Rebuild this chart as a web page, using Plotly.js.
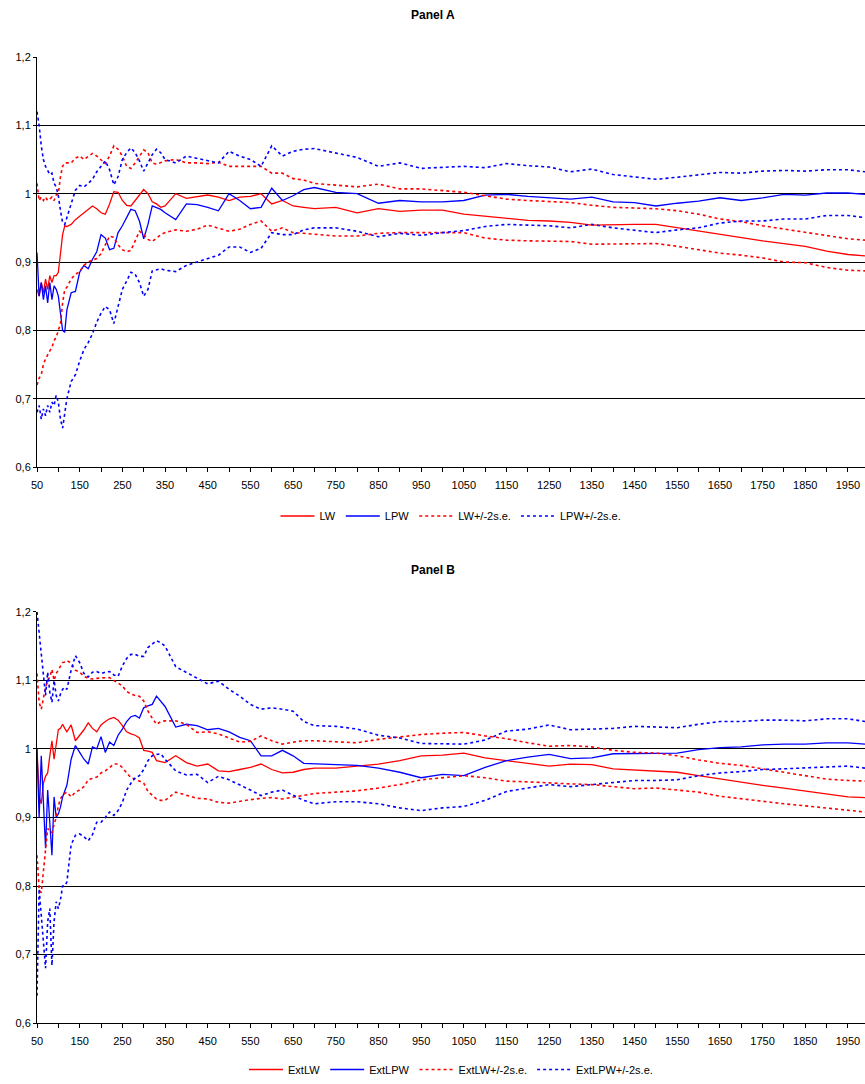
<!DOCTYPE html>
<html>
<head>
<meta charset="utf-8">
<script src="https://cdn.plot.ly/plotly-3.0.1.min.js"></script>
<style>
html,body{margin:0;padding:0;background:#fff;}
.chart{width:865px;height:542px;}
</style>
</head>
<body>
<div id="chartA" class="chart"></div>
<div id="chartB" class="chart"></div>
<script>
// Shared x grid (number of observations)
var xs = [50,55,60,65,70,75,80,85,90,95,100,105,110,115,120,130,140,150,160,170,180,190,200,210,220,230,240,250,260,270,280,290,300,310,320,330,340,350,375,400,425,450,475,500,525,550,575,600,625,650,675,700,750,800,850,900,950,1000,1050,1100,1150,1200,1250,1300,1350,1400,1450,1500,1550,1600,1650,1700,1750,1800,1850,1900,1950,1990];

// Panel A
var LW = [0.86,0.85,0.87,0.855,0.875,0.86,0.88,0.87,0.88,0.88,0.885,0.91,0.94,0.953,0.952,0.955,0.962,0.967,0.972,0.978,0.982,0.978,0.972,0.97,0.985,1.003,1.002,0.99,0.983,0.982,0.99,0.998,1.006,1.0,0.988,0.985,0.98,0.982,1.0,0.993,0.995,0.998,0.995,0.99,0.995,0.996,1.0,0.985,0.99,0.982,0.98,0.978,0.98,0.972,0.978,0.974,0.976,0.976,0.97,0.967,0.963,0.961,0.96,0.958,0.954,0.955,0.955,0.955,0.95,0.945,0.94,0.935,0.931,0.927,0.923,0.916,0.911,0.909];
var LPW = [0.914,0.85,0.87,0.845,0.865,0.84,0.87,0.845,0.865,0.86,0.85,0.82,0.8,0.797,0.83,0.855,0.857,0.885,0.895,0.89,0.904,0.915,0.94,0.935,0.918,0.92,0.943,0.953,0.965,0.977,0.975,0.96,0.934,0.955,0.982,0.98,0.977,0.972,0.962,0.985,0.984,0.98,0.975,1.0,0.99,0.978,0.98,1.008,0.99,0.997,1.006,1.009,1.002,1.0,0.986,0.99,0.988,0.988,0.99,0.998,0.999,0.996,0.994,0.992,0.995,0.988,0.987,0.982,0.986,0.989,0.994,0.99,0.994,0.999,0.998,1.001,1.001,0.999];
var LWup = [1.015,0.99,0.995,0.99,0.995,0.99,0.992,0.995,0.99,0.998,1.0,1.025,1.04,1.045,1.045,1.045,1.052,1.055,1.05,1.055,1.059,1.055,1.05,1.044,1.055,1.07,1.065,1.055,1.04,1.037,1.045,1.055,1.064,1.06,1.045,1.043,1.045,1.048,1.05,1.045,1.045,1.044,1.046,1.04,1.04,1.04,1.04,1.03,1.03,1.022,1.02,1.015,1.013,1.01,1.014,1.007,1.007,1.005,1.002,0.997,0.992,0.99,0.988,0.987,0.983,0.98,0.979,0.978,0.975,0.97,0.963,0.959,0.953,0.948,0.944,0.939,0.934,0.932];
var LWlo = [0.72,0.73,0.735,0.75,0.758,0.765,0.77,0.775,0.785,0.79,0.8,0.81,0.84,0.86,0.863,0.875,0.882,0.886,0.895,0.9,0.903,0.905,0.912,0.925,0.938,0.936,0.925,0.918,0.915,0.917,0.93,0.945,0.94,0.933,0.93,0.935,0.94,0.943,0.947,0.945,0.948,0.954,0.95,0.945,0.948,0.955,0.96,0.945,0.95,0.943,0.942,0.941,0.938,0.938,0.942,0.943,0.943,0.943,0.943,0.935,0.932,0.931,0.93,0.93,0.926,0.926,0.926,0.927,0.923,0.918,0.913,0.91,0.906,0.9,0.899,0.892,0.888,0.887];
var LPWup = [1.12,1.1,1.07,1.05,1.04,1.035,1.028,1.03,1.015,1.01,0.997,0.975,0.958,0.955,0.965,0.985,1.005,1.012,1.01,1.015,1.021,1.032,1.04,1.048,1.035,1.013,1.025,1.05,1.06,1.067,1.06,1.048,1.033,1.045,1.057,1.065,1.06,1.05,1.045,1.055,1.052,1.048,1.045,1.062,1.055,1.05,1.04,1.07,1.055,1.062,1.065,1.066,1.06,1.053,1.04,1.045,1.037,1.038,1.04,1.038,1.044,1.041,1.039,1.032,1.036,1.028,1.025,1.021,1.024,1.027,1.031,1.03,1.033,1.034,1.033,1.035,1.035,1.032];
var LPWlo = [0.68,0.69,0.67,0.685,0.675,0.69,0.68,0.695,0.69,0.705,0.695,0.67,0.657,0.68,0.7,0.725,0.735,0.755,0.772,0.782,0.795,0.812,0.825,0.835,0.83,0.81,0.835,0.86,0.872,0.885,0.882,0.87,0.85,0.86,0.887,0.888,0.89,0.888,0.886,0.895,0.9,0.905,0.91,0.922,0.922,0.914,0.92,0.943,0.94,0.94,0.947,0.95,0.95,0.945,0.937,0.942,0.939,0.943,0.946,0.952,0.955,0.954,0.953,0.95,0.955,0.95,0.946,0.943,0.947,0.95,0.957,0.96,0.96,0.963,0.963,0.968,0.968,0.965];

// Panel B
var ExtLW = [1.0,0.93,0.92,0.95,0.96,0.965,0.99,1.012,0.985,1.01,1.028,1.03,1.036,1.03,1.025,1.035,1.012,1.02,1.028,1.038,1.03,1.025,1.035,1.04,1.044,1.046,1.042,1.034,1.025,1.022,1.02,1.016,0.998,0.997,0.995,0.983,0.982,0.98,0.99,0.98,0.975,0.978,0.968,0.967,0.97,0.973,0.978,0.97,0.965,0.966,0.97,0.972,0.972,0.975,0.978,0.983,0.99,0.991,0.994,0.987,0.983,0.98,0.975,0.978,0.977,0.971,0.969,0.968,0.966,0.961,0.956,0.951,0.947,0.943,0.939,0.934,0.93,0.929];
var ExtLPW = [1.0,0.9,0.99,0.92,0.855,0.94,0.885,0.845,0.93,0.9,0.905,0.915,0.93,0.94,0.947,0.985,1.005,0.995,0.985,0.978,1.003,1.0,1.018,0.995,1.01,1.005,1.02,1.029,1.04,1.047,1.049,1.045,1.06,1.063,1.065,1.077,1.07,1.062,1.032,1.036,1.034,1.028,1.03,1.025,1.017,1.012,0.99,0.99,0.998,0.99,0.979,0.978,0.977,0.976,0.972,0.966,0.958,0.963,0.961,0.973,0.983,0.988,0.992,0.986,0.987,0.993,0.993,0.994,0.994,0.999,1.002,1.003,1.006,1.007,1.007,1.009,1.009,1.007];
var ExtLWup = [1.11,1.068,1.058,1.075,1.09,1.1,1.105,1.116,1.1,1.11,1.116,1.12,1.126,1.127,1.129,1.125,1.115,1.112,1.106,1.103,1.102,1.103,1.104,1.104,1.104,1.1,1.097,1.092,1.084,1.08,1.078,1.077,1.07,1.055,1.045,1.036,1.04,1.041,1.041,1.036,1.024,1.025,1.022,1.016,1.01,1.011,1.019,1.012,1.007,1.01,1.012,1.012,1.01,1.009,1.014,1.018,1.021,1.023,1.024,1.019,1.015,1.009,1.004,1.005,1.003,0.998,0.995,0.994,0.99,0.984,0.979,0.976,0.971,0.966,0.961,0.956,0.954,0.953];
var ExtLWlo = [0.845,0.796,0.79,0.825,0.855,0.884,0.88,0.878,0.89,0.9,0.917,0.927,0.933,0.935,0.937,0.93,0.937,0.94,0.945,0.955,0.957,0.959,0.965,0.968,0.973,0.978,0.978,0.973,0.965,0.958,0.956,0.953,0.95,0.938,0.932,0.927,0.925,0.925,0.937,0.932,0.928,0.927,0.922,0.921,0.924,0.926,0.928,0.929,0.927,0.93,0.933,0.935,0.937,0.939,0.943,0.948,0.955,0.958,0.961,0.958,0.953,0.952,0.95,0.949,0.948,0.945,0.942,0.943,0.94,0.937,0.931,0.927,0.924,0.92,0.917,0.914,0.91,0.908];
var ExtLPWup = [1.2,1.17,1.136,1.107,1.078,1.112,1.083,1.068,1.1,1.078,1.07,1.08,1.087,1.09,1.087,1.115,1.136,1.126,1.11,1.105,1.112,1.113,1.11,1.112,1.113,1.108,1.106,1.121,1.132,1.138,1.138,1.135,1.135,1.148,1.153,1.158,1.155,1.15,1.12,1.112,1.104,1.095,1.099,1.087,1.077,1.065,1.058,1.06,1.058,1.055,1.04,1.034,1.033,1.029,1.02,1.016,1.008,1.007,1.007,1.013,1.026,1.029,1.035,1.028,1.029,1.03,1.033,1.032,1.031,1.036,1.04,1.04,1.042,1.042,1.041,1.044,1.044,1.04];
var ExtLPWlo = [0.64,0.796,0.757,0.718,0.68,0.748,0.767,0.684,0.748,0.777,0.767,0.78,0.8,0.8,0.806,0.86,0.874,0.876,0.872,0.866,0.875,0.893,0.893,0.9,0.908,0.903,0.91,0.922,0.94,0.95,0.958,0.961,0.97,0.983,0.99,0.992,0.993,0.985,0.968,0.962,0.963,0.951,0.96,0.955,0.948,0.94,0.932,0.937,0.94,0.932,0.925,0.92,0.923,0.923,0.92,0.914,0.91,0.914,0.916,0.925,0.938,0.943,0.948,0.945,0.948,0.951,0.954,0.954,0.955,0.961,0.965,0.967,0.97,0.971,0.972,0.974,0.975,0.972];

// Axis labels
var yTickVals = [0.6,0.7,0.8,0.9,1.0,1.1,1.2];
var yTickText = ['0,6','0,7','0,8','0,9','1','1,1','1,2'];
var xTickVals = [];
var xTickText = [];
for (var v = 50; v <= 1950; v += 50) {
  xTickVals.push(v);
  xTickText.push(((v - 50) % 100 === 0) ? String(v) : '');
}

var RED = 'rgb(255,0,0)', BLUE = 'rgb(0,0,255)';
var FONT = 'Liberation Sans, Arial, sans-serif';
function tr(y, name, color, dotted, show, group) {
  var t = {
    x: xs, y: y, name: name, type: 'scatter', mode: 'lines',
    showlegend: show,
    line: dotted ? {color: color, width: 1.6, dash: 'dot'} : {color: color, width: 1.3, dash: 'solid'},
    hoverinfo: 'skip'
  };
  if (group) t.legendgroup = group;
  return t;
}

var W = 865, H = 542;
function py(px) { return 1 - px / H; }

function makeLayout(title, top, bottom, titleY, legendY) {
  return {
    width: W, height: H,
    margin: {l: 0, r: 0, t: 0, b: 0},
    paper_bgcolor: '#fff', plot_bgcolor: '#fff',
    showlegend: true,
    xaxis: {
      domain: [37 / W, 1], range: [50, 1990],
      tickmode: 'array', tickvals: xTickVals, ticktext: xTickText,
      ticks: 'outside', ticklen: 4, tickcolor: '#000', tickwidth: 1,
      ticklabelstandoff: 4,
      showline: true, linecolor: '#000', linewidth: 1,
      showgrid: false, zeroline: false,
      tickfont: {family: FONT, size: 11, color: '#000'}
    },
    yaxis: {
      domain: [py(bottom), py(top)], range: [0.6, 1.2],
      tickmode: 'array', tickvals: yTickVals, ticktext: yTickText,
      ticks: 'outside', ticklen: 3, tickcolor: '#000', tickwidth: 1,
      showline: true, linecolor: '#000', linewidth: 1,
      showgrid: true, gridcolor: '#000', gridwidth: 1, zeroline: false,
      tickfont: {family: FONT, size: 11, color: '#000'}
    },
    legend: {orientation: 'h', x: 451 / W, xanchor: 'center', y: py(legendY), yanchor: 'middle',
             traceorder: 'normal',
             font: {family: FONT, size: 11, color: '#000'}, itemwidth: 34, tracegroupgap: 0,
             bgcolor: 'rgba(0,0,0,0)'},
    annotations: [
      {text: '<b>' + title + '</b>', xref: 'paper', yref: 'paper', x: 0.5, y: py(titleY),
       xanchor: 'center', yanchor: 'middle', showarrow: false,
       font: {family: FONT, size: 12, color: '#000'}}
    ]
  };
}

var dataA = [
  tr(LW, 'LW', RED, false, true, null),
  tr(LPW, 'LPW', BLUE, false, true, null),
  tr(LWup, 'LW+/-2s.e.', RED, true, true, 'a3'),
  tr(LWlo, 'LW+/-2s.e.', RED, true, false, 'a3'),
  tr(LPWup, 'LPW+/-2s.e.', BLUE, true, true, 'a4'),
  tr(LPWlo, 'LPW+/-2s.e.', BLUE, true, false, 'a4')
];
var dataB = [
  tr(ExtLW, 'ExtLW', RED, false, true, null),
  tr(ExtLPW, 'ExtLPW', BLUE, false, true, null),
  tr(ExtLWup, 'ExtLW+/-2s.e.', RED, true, true, 'b3'),
  tr(ExtLWlo, 'ExtLW+/-2s.e.', RED, true, false, 'b3'),
  tr(ExtLPWup, 'ExtLPW+/-2s.e.', BLUE, true, true, 'b4'),
  tr(ExtLPWlo, 'ExtLPW+/-2s.e.', BLUE, true, false, 'b4')
];

var cfg = {staticPlot: true, displayModeBar: false};
Plotly.newPlot('chartA', dataA, makeLayout('Panel A', 57, 467, 15, 516), cfg);
Plotly.newPlot('chartB', dataB, makeLayout('Panel B', 70, 482, 28, 528), cfg);
</script>
</body>
</html>
